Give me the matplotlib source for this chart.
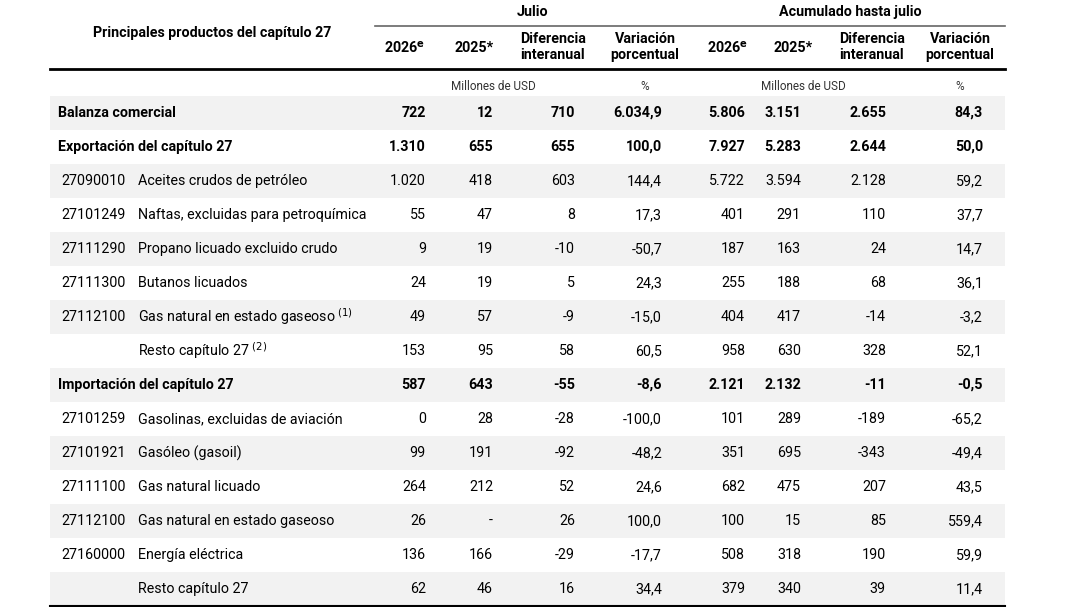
import matplotlib.pyplot as plt
from matplotlib import font_manager as fm

names = {f.name for f in fm.fontManager.ttflist}
FONT = 'Liberation Sans Narrow' if 'Liberation Sans Narrow' in names else 'Roboto'

codes = ['', '', '27090010', '27101249', '27111290', '27111300', '27112100', '',
         '', '27101259', '27101921', '27111100', '27112100', '27160000', '']
labels = ['Balanza comercial', 'Exportación del capítulo 27', 'Aceites crudos de petróleo',
          'Naftas, excluidas para petroquímica', 'Propano licuado excluido crudo',
          'Butanos licuados', 'Gas natural en estado gaseoso$^{\\ (1)}$', 'Resto capítulo 27$^{\\ (2)}$',
          'Importación del capítulo 27', 'Gasolinas, excluidas de aviación', 'Gasóleo (gasoil)',
          'Gas natural licuado', 'Gas natural en estado gaseoso', 'Energía eléctrica',
          'Resto capítulo 27']
bold = [True, True, False, False, False, False, False, False, True,
        False, False, False, False, False, False]
jul_2026 = ['722', '1.310', '1.020', '55', '9', '24', '49', '153', '587', '0', '99', '264', '26', '136', '62']
jul_2025 = ['12', '655', '418', '47', '19', '19', '57', '95', '643', '28', '191', '212', '-', '166', '46']
jul_dif = ['710', '655', '603', '8', '-10', '5', '-9', '58', '-55', '-28', '-92', '52', '26', '-29', '16']
jul_var = ['6.034,9', '100,0', '144,4', '17,3', '-50,7', '24,3', '-15,0', '60,5', '-8,6',
           '-100,0', '-48,2', '24,6', '100,0', '-17,7', '34,4']
acu_2026 = ['5.806', '7.927', '5.722', '401', '187', '255', '404', '958', '2.121',
            '101', '351', '682', '100', '508', '379']
acu_2025 = ['3.151', '5.283', '3.594', '291', '163', '188', '417', '630', '2.132',
            '289', '695', '475', '15', '318', '340']
acu_dif = ['2.655', '2.644', '2.128', '110', '24', '68', '-14', '328', '-11',
           '-189', '-343', '207', '85', '190', '39']
acu_var = ['84,3', '50,0', '59,2', '37,7', '14,7', '36,1', '-3,2', '52,1', '-0,5',
           '-65,2', '-49,4', '43,5', '559,4', '59,9', '11,4']

cols = [jul_2026, jul_2025, jul_dif, jul_var, acu_2026, acu_2025, acu_dif, acu_var]
col_right = [426, 493, 575, 662, 745, 801, 886, 983]
col_center = [405, 474, 553, 645, 728, 793, 872, 960]
heads = ['2026$^{\\mathbf{e}}$', '2025*', 'Diferencia\ninteranual', 'Variación\nporcentual'] * 2

fig = plt.figure(figsize=(10.88, 6.07), dpi=100)
ax = fig.add_axes([0, 0, 1, 1])
ax.set_xlim(0, 1088)
ax.set_ylim(607, 0)
ax.axis('off')
plt.rcParams['font.family'] = [FONT, 'DejaVu Sans']
fs = 10.3

L, R = 50, 1005
# header
ax.text(212, 33, 'Principales productos del capítulo 27', ha='center', va='center', fontsize=fs, weight='bold')
ax.text(533, 12, 'Julio', ha='center', va='center', fontsize=fs, weight='bold')
ax.text(850, 12, 'Acumulado hasta julio', ha='center', va='center', fontsize=fs, weight='bold')
ax.plot([375, R], [26, 26], color='#666666', lw=1.2)
for c, h in zip(col_center, heads):
    y = 47 if '\n' in h else 48
    ax.text(c, y, h, ha='center', va='center', fontsize=fs, weight='bold', linespacing=1.15)
ax.plot([L, R], [68.5, 68.5], color='black', lw=2)
for c, u in [(493, 'Millones de USD'), (645, '%'), (803, 'Millones de USD'), (960, '%')]:
    ax.text(c, 86, u, ha='center', va='center', fontsize=8.5, color='#333333')

y0, step = 96, 34
for i in range(len(labels)):
    top = y0 + i * step
    yc = top + step / 2
    if i % 2 == 0:
        ax.add_patch(plt.Rectangle((L, top), R - L, step, color='#f2f2f2', lw=0))
    w = 'bold' if bold[i] else 'normal'
    if bold[i]:
        ax.text(58, yc, labels[i], ha='left', va='center', fontsize=fs, weight=w)
    else:
        if codes[i]:
            ax.text(61, yc, codes[i], ha='left', va='center', fontsize=fs)
        ax.text(138, yc, labels[i], ha='left', va='center', fontsize=fs)
    for col, xr in zip(cols, col_right):
        ax.text(xr, yc, col[i], ha='right', va='center', fontsize=fs, weight=w)
ax.plot([L, R], [606, 606], color='black', lw=1.5)

fig.savefig('out.png', dpi=100)
